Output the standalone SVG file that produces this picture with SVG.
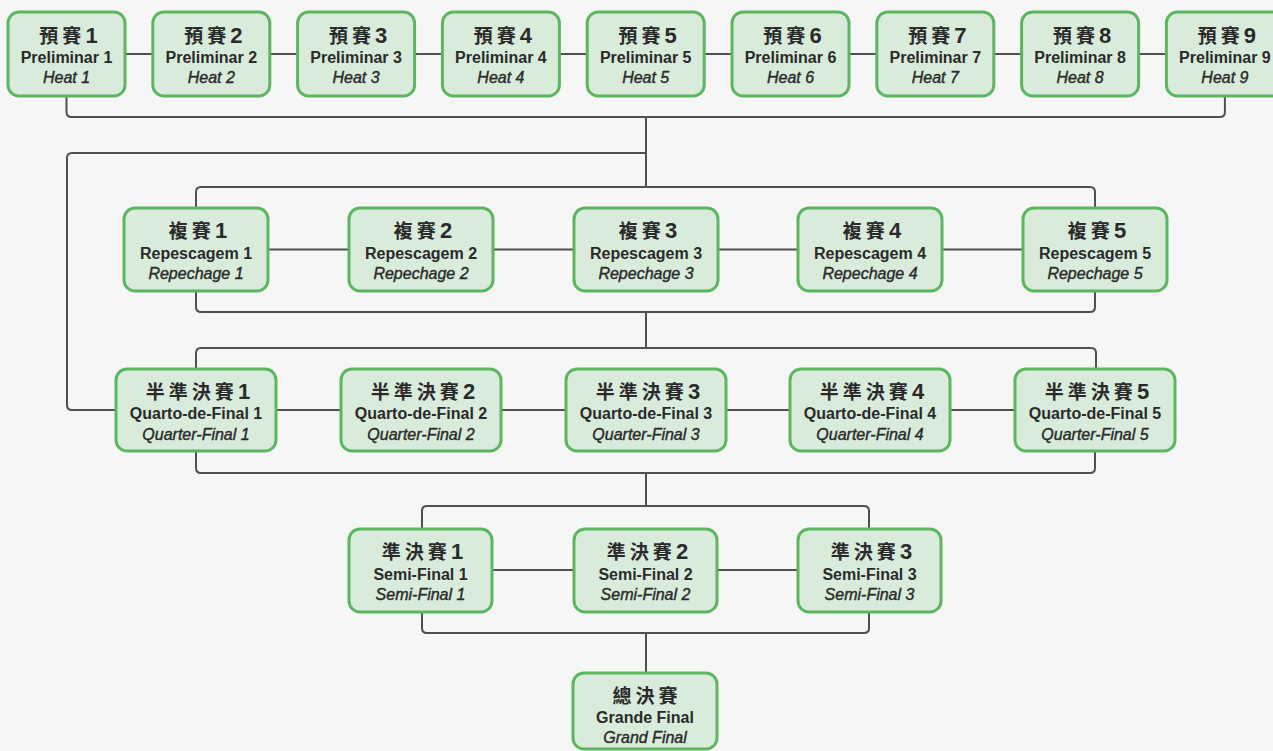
<svg xmlns="http://www.w3.org/2000/svg" width="1273" height="751" viewBox="0 0 1273 751">
<style>
.bg{fill:#f6f6f6}
.box{fill:#d9ecdc;stroke:#5cb660;stroke-width:3}
.ln{fill:none;stroke:#505050;stroke-width:2}
.t1{font-family:"Noto Sans CJK TC","Noto Sans CJK SC",sans-serif;font-weight:700;font-size:19px;letter-spacing:4px;fill:#2a2a2a;text-anchor:middle}
.d{font-family:"Liberation Sans",Arial,sans-serif;font-size:22px;font-weight:700;letter-spacing:0}
.t2{font-family:"Liberation Sans",Arial,sans-serif;font-weight:700;font-size:16px;fill:#2a2a2a;text-anchor:middle}
.t3{font-family:"Liberation Sans",Arial,sans-serif;font-style:italic;font-size:16px;fill:#2a2a2a;stroke:#2a2a2a;stroke-width:0.4;text-anchor:middle}
</style>
<rect class="bg" x="0" y="0" width="1273" height="751"/>
<g id="connectors">
<path class="ln" d="M66.5,54 H1224.9"/>
<path class="ln" d="M66.5,96 V112 Q66.5,117 71.5,117 H1219.9 Q1224.9,117 1224.9,112 V96"/>
<path class="ln" d="M646,117 V187"/>
<path class="ln" d="M646,153 H72 Q67,153 67,158 V405 Q67,410 72,410 H116"/>
<path class="ln" d="M196,208 V192 Q196,187 201,187 H1090 Q1095,187 1095,192 V208"/>
<path class="ln" d="M196,249.5 H1095"/>
<path class="ln" d="M196,291 V307 Q196,312 201,312 H1090 Q1095,312 1095,307 V291"/>
<path class="ln" d="M646,312 V348"/>
<path class="ln" d="M196,369 V353 Q196,348 201,348 H1091 Q1096,348 1096,353 V369"/>
<path class="ln" d="M196,410 H1095"/>
<path class="ln" d="M196,451 V468 Q196,473 201,473 H1090 Q1095,473 1095,468 V451"/>
<path class="ln" d="M646,473 V506"/>
<path class="ln" d="M422,529 V511 Q422,506 427,506 H864 Q869,506 869,511 V529"/>
<path class="ln" d="M421,570 H870"/>
<path class="ln" d="M422,612 V628 Q422,633 427,633 H864 Q869,633 869,628 V612"/>
<path class="ln" d="M646,633 V673"/>
</g>
<g id="heat1"><rect class="box" x="8" y="12" width="117" height="84" rx="11"/><text class="t1" x="68.5" y="43">預賽<tspan class="d">1</tspan></text><text class="t2" x="66.5" y="63">Preliminar 1</text><text class="t3" x="66.5" y="83">Heat 1</text></g>
<g id="heat2"><rect class="box" x="152.8" y="12" width="117" height="84" rx="11"/><text class="t1" x="213.3" y="43">預賽<tspan class="d">2</tspan></text><text class="t2" x="211.3" y="63">Preliminar 2</text><text class="t3" x="211.3" y="83">Heat 2</text></g>
<g id="heat3"><rect class="box" x="297.6" y="12" width="117" height="84" rx="11"/><text class="t1" x="358.1" y="43">預賽<tspan class="d">3</tspan></text><text class="t2" x="356.1" y="63">Preliminar 3</text><text class="t3" x="356.1" y="83">Heat 3</text></g>
<g id="heat4"><rect class="box" x="442.4" y="12" width="117" height="84" rx="11"/><text class="t1" x="502.9" y="43">預賽<tspan class="d">4</tspan></text><text class="t2" x="500.9" y="63">Preliminar 4</text><text class="t3" x="500.9" y="83">Heat 4</text></g>
<g id="heat5"><rect class="box" x="587.2" y="12" width="117" height="84" rx="11"/><text class="t1" x="647.7" y="43">預賽<tspan class="d">5</tspan></text><text class="t2" x="645.7" y="63">Preliminar 5</text><text class="t3" x="645.7" y="83">Heat 5</text></g>
<g id="heat6"><rect class="box" x="732" y="12" width="117" height="84" rx="11"/><text class="t1" x="792.5" y="43">預賽<tspan class="d">6</tspan></text><text class="t2" x="790.5" y="63">Preliminar 6</text><text class="t3" x="790.5" y="83">Heat 6</text></g>
<g id="heat7"><rect class="box" x="876.8" y="12" width="117" height="84" rx="11"/><text class="t1" x="937.3" y="43">預賽<tspan class="d">7</tspan></text><text class="t2" x="935.3" y="63">Preliminar 7</text><text class="t3" x="935.3" y="83">Heat 7</text></g>
<g id="heat8"><rect class="box" x="1021.6" y="12" width="117" height="84" rx="11"/><text class="t1" x="1082.1" y="43">預賽<tspan class="d">8</tspan></text><text class="t2" x="1080.1" y="63">Preliminar 8</text><text class="t3" x="1080.1" y="83">Heat 8</text></g>
<g id="heat9"><rect class="box" x="1166.4" y="12" width="117" height="84" rx="11"/><text class="t1" x="1226.9" y="43">預賽<tspan class="d">9</tspan></text><text class="t2" x="1224.9" y="63">Preliminar 9</text><text class="t3" x="1224.9" y="83">Heat 9</text></g>
<g id="rep1"><rect class="box" x="124" y="208" width="144" height="83" rx="11"/><text class="t1" x="198" y="238">複賽<tspan class="d">1</tspan></text><text class="t2" x="196" y="259">Repescagem 1</text><text class="t3" x="196" y="279">Repechage 1</text></g>
<g id="rep2"><rect class="box" x="349" y="208" width="144" height="83" rx="11"/><text class="t1" x="423" y="238">複賽<tspan class="d">2</tspan></text><text class="t2" x="421" y="259">Repescagem 2</text><text class="t3" x="421" y="279">Repechage 2</text></g>
<g id="rep3"><rect class="box" x="574" y="208" width="144" height="83" rx="11"/><text class="t1" x="648" y="238">複賽<tspan class="d">3</tspan></text><text class="t2" x="646" y="259">Repescagem 3</text><text class="t3" x="646" y="279">Repechage 3</text></g>
<g id="rep4"><rect class="box" x="798" y="208" width="144" height="83" rx="11"/><text class="t1" x="872" y="238">複賽<tspan class="d">4</tspan></text><text class="t2" x="870" y="259">Repescagem 4</text><text class="t3" x="870" y="279">Repechage 4</text></g>
<g id="rep5"><rect class="box" x="1023" y="208" width="144" height="83" rx="11"/><text class="t1" x="1097" y="238">複賽<tspan class="d">5</tspan></text><text class="t2" x="1095" y="259">Repescagem 5</text><text class="t3" x="1095" y="279">Repechage 5</text></g>
<g id="qf1"><rect class="box" x="116" y="369" width="160" height="82" rx="11"/><text class="t1" x="198" y="399">半準決賽<tspan class="d">1</tspan></text><text class="t2" x="196" y="419">Quarto-de-Final 1</text><text class="t3" x="196" y="440">Quarter-Final 1</text></g>
<g id="qf2"><rect class="box" x="341" y="369" width="160" height="82" rx="11"/><text class="t1" x="423" y="399">半準決賽<tspan class="d">2</tspan></text><text class="t2" x="421" y="419">Quarto-de-Final 2</text><text class="t3" x="421" y="440">Quarter-Final 2</text></g>
<g id="qf3"><rect class="box" x="566" y="369" width="160" height="82" rx="11"/><text class="t1" x="648" y="399">半準決賽<tspan class="d">3</tspan></text><text class="t2" x="646" y="419">Quarto-de-Final 3</text><text class="t3" x="646" y="440">Quarter-Final 3</text></g>
<g id="qf4"><rect class="box" x="790" y="369" width="160" height="82" rx="11"/><text class="t1" x="872" y="399">半準決賽<tspan class="d">4</tspan></text><text class="t2" x="870" y="419">Quarto-de-Final 4</text><text class="t3" x="870" y="440">Quarter-Final 4</text></g>
<g id="qf5"><rect class="box" x="1015" y="369" width="160" height="82" rx="11"/><text class="t1" x="1097" y="399">半準決賽<tspan class="d">5</tspan></text><text class="t2" x="1095" y="419">Quarto-de-Final 5</text><text class="t3" x="1095" y="440">Quarter-Final 5</text></g>
<g id="sf1"><rect class="box" x="349" y="529" width="143" height="83" rx="11"/><text class="t1" x="422.5" y="559">準決賽<tspan class="d">1</tspan></text><text class="t2" x="420.5" y="580">Semi-Final 1</text><text class="t3" x="420.5" y="600">Semi-Final 1</text></g>
<g id="sf2"><rect class="box" x="574" y="529" width="143" height="83" rx="11"/><text class="t1" x="647.5" y="559">準決賽<tspan class="d">2</tspan></text><text class="t2" x="645.5" y="580">Semi-Final 2</text><text class="t3" x="645.5" y="600">Semi-Final 2</text></g>
<g id="sf3"><rect class="box" x="798" y="529" width="143" height="83" rx="11"/><text class="t1" x="871.5" y="559">準決賽<tspan class="d">3</tspan></text><text class="t2" x="869.5" y="580">Semi-Final 3</text><text class="t3" x="869.5" y="600">Semi-Final 3</text></g>
<g id="final"><rect class="box" x="573" y="673" width="144" height="76" rx="11"/><text class="t1" x="647" y="703">總決賽</text><text class="t2" x="645" y="723">Grande Final</text><text class="t3" x="645" y="743">Grand Final</text></g>
</svg>
